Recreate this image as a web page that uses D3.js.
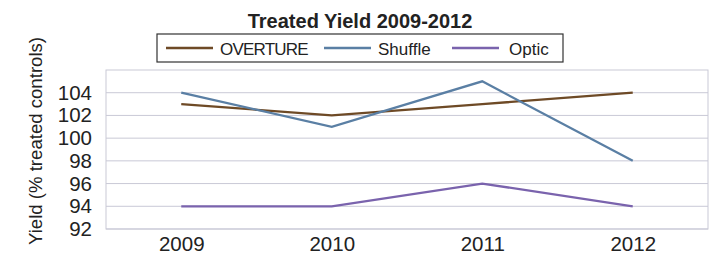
<!DOCTYPE html>
<html>
<head>
<meta charset="utf-8">
<script src="https://cdn.jsdelivr.net/npm/d3@7"></script>
<style>
  html, body { margin: 0; padding: 0; background: #fff; }
  svg { display: block; font-family: "Liberation Sans", Arial, sans-serif; }
</style>
</head>
<body>
<svg id="chart" width="716" height="258"></svg>
<script>
"use strict";

const years = ['2009', '2010', '2011', '2012'];
const overture = [103, 102, 103, 104];
const shuffle = [104, 101, 105, 98];
const optic = [94, 94, 96, 94];
const yTicks = [92, 94, 96, 98, 100, 102, 104];

const seriesList = [
  { name: 'OVERTURE', values: overture, color: '#6e4a26' },
  { name: 'Shuffle',  values: shuffle,  color: '#5a7fa4' },
  { name: 'Optic',    values: optic,    color: '#7a63ad' }
];

const W = 716, H = 258;
const margin = { left: 106, right: 8, top: 70, bottom: 29 };
const svg = d3.select('#chart');

const x = d3.scalePoint().domain(years).range([margin.left, W - margin.right]).padding(0.5);
const y = d3.scaleLinear().domain([92, 106]).range([H - margin.bottom, margin.top]);

// grid
svg.append('g').selectAll('line').data(yTicks).enter().append('line')
  .attr('x1', margin.left).attr('x2', W - margin.right)
  .attr('y1', d => y(d)).attr('y2', d => y(d))
  .attr('stroke', '#c9c9d6').attr('stroke-width', 1);

// plot border
svg.append('rect')
  .attr('x', margin.left).attr('y', margin.top)
  .attr('width', W - margin.right - margin.left).attr('height', H - margin.bottom - margin.top)
  .attr('fill', 'none').attr('stroke', '#c9c9d6').attr('stroke-width', 1);

// y axis labels
const yAxis = svg.append('g')
  .attr('transform', 'translate(' + (margin.left - 14) + ',0)')
  .call(d3.axisLeft(y).tickValues(yTicks).tickSize(0).tickPadding(0));
yAxis.select('.domain').remove();
yAxis.selectAll('text')
  .attr('font-size', '20.5px').attr('fill', '#222')
  .attr('font-family', '"Liberation Sans", Arial, sans-serif');

// x axis labels
const xAxis = svg.append('g')
  .attr('transform', 'translate(0,' + (H - margin.bottom) + ')')
  .call(d3.axisBottom(x).tickSize(0).tickPadding(7));
xAxis.select('.domain').remove();
xAxis.selectAll('text')
  .attr('font-size', '20.5px').attr('fill', '#222')
  .attr('font-family', '"Liberation Sans", Arial, sans-serif');

// lines
const line = d3.line().x((d, i) => x(years[i])).y(d => y(d));
svg.append('g').selectAll('path').data(seriesList).enter().append('path')
  .attr('d', d => line(d.values))
  .attr('fill', 'none')
  .attr('stroke', d => d.color)
  .attr('stroke-width', 2.3);

// title
svg.append('text')
  .attr('x', 360).attr('y', 28)
  .attr('text-anchor', 'middle')
  .attr('font-size', '20px').attr('font-weight', '700').attr('fill', '#222')
  .text('Treated Yield 2009-2012');

// legend
svg.append('rect')
  .attr('x', 157).attr('y', 34).attr('width', 406).attr('height', 28)
  .attr('fill', '#fff').attr('stroke', '#333').attr('stroke-width', 1.2);

const legendItems = [
  { x: 166, textX: 220, spacing: '-0.8px' },
  { x: 324, textX: 378, spacing: '0px' },
  { x: 452, textX: 509, spacing: '0px' }
];
const lg = svg.append('g').selectAll('g').data(seriesList).enter().append('g');
lg.append('line')
  .attr('x1', (d, i) => legendItems[i].x).attr('x2', (d, i) => legendItems[i].x + 47)
  .attr('y1', 48).attr('y2', 48)
  .attr('stroke', d => d.color).attr('stroke-width', 2.4);
lg.append('text')
  .attr('x', (d, i) => legendItems[i].textX).attr('y', 54.5)
  .attr('font-size', '17px').attr('fill', '#222')
  .attr('letter-spacing', (d, i) => legendItems[i].spacing)
  .text(d => d.name);

// y axis title
svg.append('text')
  .attr('transform', 'translate(42,141) rotate(-90)')
  .attr('text-anchor', 'middle')
  .attr('font-size', '18.6px').attr('fill', '#222')
  .text('Yield (% treated controls)');
</script>
</body>
</html>
